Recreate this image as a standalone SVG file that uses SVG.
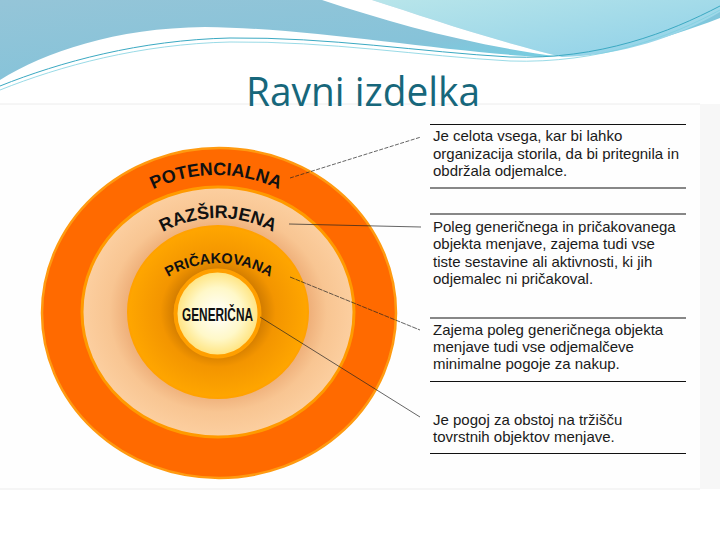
<svg xmlns="http://www.w3.org/2000/svg" width="720" height="540" viewBox="0 0 720 540">
<style>
.ring-label{font-family:"Liberation Sans",Arial,sans-serif;font-weight:bold;fill:#111;}
.desc{font-family:"Liberation Sans",Arial,sans-serif;font-size:15px;fill:#1a1a1a;}
.rule{stroke:#111;stroke-width:1.2;}
.conn{stroke:#222;stroke-width:0.7;fill:none;}
</style>
<defs>
<linearGradient id="skyL" x1="0" y1="0" x2="1" y2="1">
<stop offset="0" stop-color="#95c5d8"/>
<stop offset="0.55" stop-color="#86c3d9"/>
<stop offset="1" stop-color="#5fdcec"/>
</linearGradient>
<linearGradient id="skyR" x1="0" y1="0" x2="1" y2="1">
<stop offset="0" stop-color="#b8e5ea"/>
<stop offset="1" stop-color="#8ed0e8"/>
</linearGradient>
<radialGradient id="gPeach" cx="0.5" cy="0.5" r="0.5">
<stop offset="0.66" stop-color="#eeae78"/>
<stop offset="0.8" stop-color="#f8c592"/>
<stop offset="1" stop-color="#fccfa0"/>
</radialGradient>
<radialGradient id="gExp" cx="0.5" cy="0.5" r="0.5">
<stop offset="0.48" stop-color="#d27c00"/>
<stop offset="0.64" stop-color="#f39500"/>
<stop offset="1" stop-color="#ffa600"/>
</radialGradient>
<radialGradient id="gGen" cx="0.5" cy="0.5" r="0.5">
<stop offset="0" stop-color="#ffffff"/>
<stop offset="0.6" stop-color="#fff8c8"/>
<stop offset="1" stop-color="#ffe27a"/>
</radialGradient>
<path id="arcPot" d="M71,320 A145,145 0 0 1 361,320"/>
<path id="arcRaz" d="M103,333 A115,115 0 0 1 333,333"/>
<path id="arcPri" d="M119,363 A100,100 0 0 1 319,363"/>
</defs>

<!-- slide background and header waves -->
<rect x="0" y="0" width="720" height="540" fill="#ffffff"/>
<path d="M0,0 L720,0 L720,18 C650,45 585,60 525,56 C425,49 305,28 205,27 C115,28 45,52 0,80 Z" fill="url(#skyL)"/>
<path d="M372,0 L720,0 L720,12 C680,36 620,56 562,57 C485,38 425,17 372,0 Z" fill="url(#skyR)"/>
<path d="M322,0 C395,24 470,45 562,57 C485,38 425,17 372,0 Z" fill="#ffffff"/>
<path d="M0,86 C60,62 140,40 230,38 C330,37 420,52 510,57 C600,60 670,32 720,6" fill="none" stroke="#3ba9c2" stroke-width="1"/>
<path d="M0,90 C60,66 140,44 230,42 C330,41 420,56 510,61 C600,64 672,36 720,10" fill="none" stroke="#7fd0df" stroke-width="0.8"/>

<!-- picture area -->
<rect x="0" y="104" width="700" height="385" fill="#fefefe"/>
<rect x="700" y="104" width="20" height="385" fill="#f7f7f7"/>
<line x1="0" y1="104" x2="700" y2="104" stroke="#ececec" stroke-width="1"/>
<line x1="0" y1="489" x2="700" y2="489" stroke="#ececec" stroke-width="1"/>

<text x="246" y="106" font-family="'Open Sans','Noto Sans',sans-serif" font-size="40" fill="#17677b" textLength="234" lengthAdjust="spacingAndGlyphs">Ravni izdelka</text>

<g id="potencialna">
<ellipse cx="219" cy="313" rx="177" ry="165" fill="#ff6a00" stroke="#ff9a10" stroke-width="2.5"/>
<text class="ring-label" font-size="18"><textPath href="#arcPot" startOffset="50%" text-anchor="middle">POTENCIALNA</textPath></text>
</g>
<g id="razsirjena">
<ellipse cx="218" cy="312" rx="136" ry="125" fill="url(#gPeach)" stroke="#ff9a00" stroke-width="3"/>
<text class="ring-label" font-size="18"><textPath href="#arcRaz" startOffset="50%" text-anchor="middle">RAZŠIRJENA</textPath></text>
</g>
<g id="pricakovana">
<ellipse cx="218" cy="312" rx="90" ry="86" fill="url(#gExp)" stroke="#ffa200" stroke-width="2"/>
<text class="ring-label" font-size="14.5"><textPath href="#arcPri" startOffset="50%" text-anchor="middle">PRIČAKOVANA</textPath></text>
</g>
<g id="genericna">
<ellipse cx="217.5" cy="313.5" rx="42" ry="43" fill="url(#gGen)" stroke="#ff9f00" stroke-width="4"/>
<text class="ring-label" x="182" y="321" font-size="19" textLength="71" lengthAdjust="spacingAndGlyphs">GENERIČNA</text>
</g>

<g id="connectors">
<line class="conn" x1="290" y1="178" x2="421" y2="137" stroke-dasharray="4 1.5"/>
<line class="conn" x1="289" y1="224" x2="421" y2="227"/>
<line class="conn" x1="290" y1="277" x2="420" y2="330" stroke-dasharray="5 1"/>
<line class="conn" x1="260" y1="317" x2="420" y2="417"/>
</g>

<g id="desc-potencialna">
<line class="rule" x1="430" y1="124.5" x2="686" y2="124.5"/>
<text class="desc" x="433" y="141">Je celota vsega, kar bi lahko</text>
<text class="desc" x="433" y="158.5">organizacija storila, da bi pritegnila in</text>
<text class="desc" x="433" y="176">obdržala odjemalce.</text>
<line class="rule" x1="430" y1="188" x2="686" y2="188"/>
</g>
<g id="desc-razsirjena">
<line class="rule" x1="430" y1="214" x2="686" y2="214"/>
<text class="desc" x="433" y="232">Poleg generičnega in pričakovanega</text>
<text class="desc" x="433" y="249">objekta menjave, zajema tudi vse</text>
<text class="desc" x="433" y="266.5">tiste sestavine ali aktivnosti, ki jih</text>
<text class="desc" x="433" y="283.5">odjemalec ni pričakoval.</text>
</g>
<g id="desc-pricakovana">
<line class="rule" x1="430" y1="318" x2="686" y2="318"/>
<text class="desc" x="433" y="335">Zajema poleg generičnega objekta</text>
<text class="desc" x="433" y="352">menjave tudi vse odjemalčeve</text>
<text class="desc" x="433" y="369">minimalne pogoje za nakup.</text>
<line class="rule" x1="430" y1="381.5" x2="686" y2="381.5"/>
</g>
<g id="desc-genericna">
<text class="desc" x="433" y="425">Je pogoj za obstoj na tržišču</text>
<text class="desc" x="433" y="442">tovrstnih objektov menjave.</text>
<line class="rule" x1="430" y1="453.5" x2="686" y2="453.5"/>
</g>
</svg>
